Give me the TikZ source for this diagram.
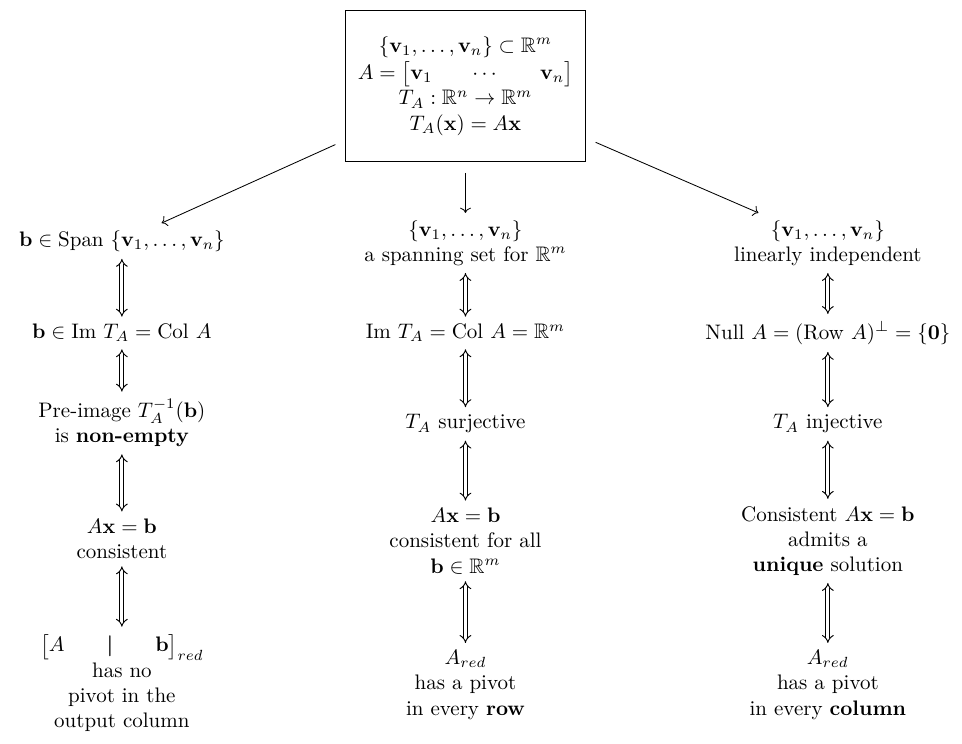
\documentclass[tikz,border=0pt]{standalone}
\usepackage{amsmath,amssymb}
\usepackage{tikz}
\usetikzlibrary{
    arrows.meta
}

\begin{document}
\begin{tikzpicture}[
    every node/.style={align=center},
    arrow/.style={->, shorten <=5pt},
    eqv/.style={double, double distance=1.5pt, line width=0.45pt, {Implies}-{Implies}},
    hyp/.style={draw, minimum width=4.02cm, minimum height=2.54cm}
]
    \useasboundingbox (0,0) rectangle (16.1,12.45);

    % Setting: vectors, matrix and map
    \node[hyp] (top) at (7.79,11.01) {
        $\{\mathbf{v}_1,\dots,\mathbf{v}_n\}\subset\mathbb{R}^m$\\[1pt]
        $\arraycolsep=9.5pt A=\begin{bmatrix}\mathbf{v}_1 & \cdots & \mathbf{v}_n\end{bmatrix}$\\
        $T_A:\mathbb{R}^n\to\mathbb{R}^m$\\
        $T_A(\mathbf{x})=A\mathbf{x}$
    };

    % Left column: b in the span
    \node (span) at (2.04,8.417) {$\mathbf{b}\in\mathrm{Span}\ \{\mathbf{v}_1,\dots,\mathbf{v}_n\}$};
    \node (im) at (2.04,6.877) {$\mathbf{b}\in\mathrm{Im}\ T_A=\mathrm{Col}\ A$};
    \node (pre) at (2.04,5.371) {Pre-image $T_A^{-1}(\mathbf{b})$\\ is \textbf{non-empty}};
    \node (cons) at (2.04,3.43) {$A\mathbf{x}=\mathbf{b}$\\ consistent};
    \node (aug) at (2.04,1.02) {$\arraycolsep=10pt\begin{bmatrix}A & \boldsymbol{|} & \mathbf{b}\end{bmatrix}_{red}$\\ has no\\ pivot in the\\ output column};

    % Middle column: spanning set
    \node (sset) at (7.79,8.384) {$\{\mathbf{v}_1,\dots,\mathbf{v}_n\}$\\ a spanning set for $\mathbb{R}^m$};
    \node (onto) at (7.79,6.877) {$\mathrm{Im}\ T_A=\mathrm{Col}\ A=\mathbb{R}^m$};
    \node (surj) at (7.79,5.355) {$T_A$ surjective};
    \node (all) at (7.79,3.397) {$A\mathbf{x}=\mathbf{b}$\\ consistent for all\\ $\mathbf{b}\in\mathbb{R}^m$};
    \node (rowpiv) at (7.79,0.987) {$A_{red}$\\ has a pivot\\ in every \textbf{row}};

    % Right column: independence
    \node (indep) at (13.855,8.384) {$\{\mathbf{v}_1,\dots,\mathbf{v}_n\}$\\ linearly independent};
    \node (null) at (13.855,6.877) {$\mathrm{Null}\ A=(\mathrm{Row}\ A)^\perp=\{\mathbf{0}\}$};
    \node (inj) at (13.855,5.355) {$T_A$ injective};
    \node (uniq) at (13.855,3.397) {Consistent $A\mathbf{x}=\mathbf{b}$\\ admits a\\ \textbf{unique} solution};
    \node (colpiv) at (13.855,0.987) {$A_{red}$\\ has a pivot\\ in every \textbf{column}};

    % Arrows out of the box
    \draw[arrow] (top) -- (span);
    \draw[arrow] (top) -- (sset);
    \draw[arrow] (top) -- (indep);

    % Equivalences
    \draw[eqv] (span) -- (im);
    \draw[eqv] (im) -- (pre);
    \draw[eqv] (pre) -- (cons);
    \draw[eqv] (cons) -- (aug);

    \draw[eqv] (sset) -- (onto);
    \draw[eqv] (onto) -- (surj);
    \draw[eqv] (surj) -- (all);
    \draw[eqv] (all) -- (rowpiv);

    \draw[eqv] (indep) -- (null);
    \draw[eqv] (null) -- (inj);
    \draw[eqv] (inj) -- (uniq);
    \draw[eqv] (uniq) -- (colpiv);

\end{tikzpicture}
\end{document}
